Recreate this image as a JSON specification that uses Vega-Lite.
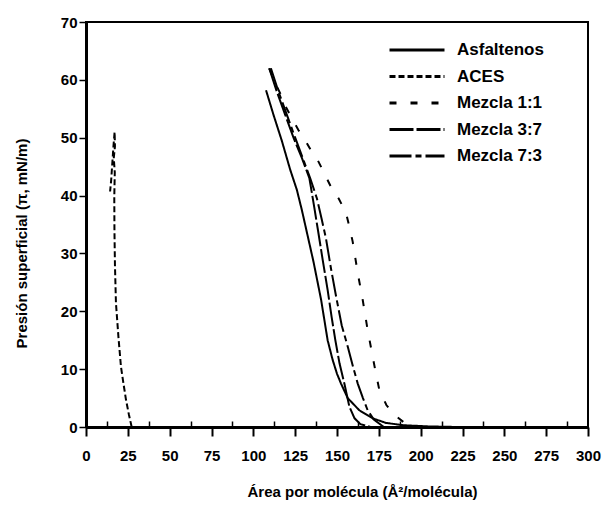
{
  "$schema": "https://vega.github.io/schema/vega-lite/v6.json",
  "autosize": "none",
  "width": 502,
  "height": 405,
  "padding": {"left": 86, "top": 22, "right": 19, "bottom": 81},
  "background": "white",
  "config": {
    "view": {"stroke": "black", "strokeWidth": 2},
    "font": "Liberation Sans",
    "axis": {
      "grid": false,
      "labelFont": "Liberation Sans",
      "labelFontWeight": "bold",
      "labelFontSize": 15,
      "labelColor": "black",
      "titleFont": "Liberation Sans",
      "titleFontWeight": "bold",
      "titleFontSize": 15,
      "titleColor": "black",
      "domainColor": "black",
      "domainWidth": 3,
      "tickColor": "black",
      "tickWidth": 1.5
    },
    "legend": {
      "labelFont": "Liberation Sans",
      "labelFontWeight": "bold",
      "labelFontSize": 17,
      "labelColor": "black"
    }
  },
  "data": {
    "values": [
      {"s": "Asfaltenos", "i": 1, "x": 107.6, "y": 58.2},
      {"s": "Asfaltenos", "i": 2, "x": 112, "y": 54},
      {"s": "Asfaltenos", "i": 3, "x": 117, "y": 49.5},
      {"s": "Asfaltenos", "i": 4, "x": 122, "y": 44.5},
      {"s": "Asfaltenos", "i": 5, "x": 126, "y": 41},
      {"s": "Asfaltenos", "i": 6, "x": 129, "y": 37.5},
      {"s": "Asfaltenos", "i": 7, "x": 132.5, "y": 33},
      {"s": "Asfaltenos", "i": 8, "x": 136, "y": 28.5},
      {"s": "Asfaltenos", "i": 9, "x": 140.5, "y": 22},
      {"s": "Asfaltenos", "i": 10, "x": 144.4, "y": 15},
      {"s": "Asfaltenos", "i": 11, "x": 147.4, "y": 11.6},
      {"s": "Asfaltenos", "i": 12, "x": 150, "y": 9.2},
      {"s": "Asfaltenos", "i": 13, "x": 152.4, "y": 7.5},
      {"s": "Asfaltenos", "i": 14, "x": 156.4, "y": 5},
      {"s": "Asfaltenos", "i": 15, "x": 163.3, "y": 2.9},
      {"s": "Asfaltenos", "i": 16, "x": 171.3, "y": 1.5},
      {"s": "Asfaltenos", "i": 17, "x": 179.3, "y": 0.7},
      {"s": "Asfaltenos", "i": 18, "x": 190, "y": 0.3},
      {"s": "Asfaltenos", "i": 19, "x": 205, "y": 0.1},
      {"s": "Asfaltenos", "i": 20, "x": 222, "y": 0},

      {"s": "ACES", "i": 1, "x": 27.3, "y": 0},
      {"s": "ACES", "i": 2, "x": 25.6, "y": 2.2},
      {"s": "ACES", "i": 3, "x": 23.9, "y": 4.7},
      {"s": "ACES", "i": 4, "x": 22.4, "y": 7.5},
      {"s": "ACES", "i": 5, "x": 20.9, "y": 10.4},
      {"s": "ACES", "i": 6, "x": 19.4, "y": 15.5},
      {"s": "ACES", "i": 7, "x": 17.9, "y": 21.4},
      {"s": "ACES", "i": 8, "x": 17.3, "y": 28},
      {"s": "ACES", "i": 9, "x": 17.0, "y": 34},
      {"s": "ACES", "i": 10, "x": 16.9, "y": 39.8},
      {"s": "ACES", "i": 11, "x": 17.2, "y": 44},
      {"s": "ACES", "i": 12, "x": 16.6, "y": 46.5},
      {"s": "ACES", "i": 13, "x": 17.3, "y": 48.5},
      {"s": "ACES", "i": 14, "x": 17.1, "y": 51},
      {"s": "ACES", "i": 15, "x": 16.4, "y": 48.5},
      {"s": "ACES", "i": 16, "x": 15.7, "y": 45.5},
      {"s": "ACES", "i": 17, "x": 15.0, "y": 42.5},
      {"s": "ACES", "i": 18, "x": 14.4, "y": 40.7},

      {"s": "Mezcla 1:1", "i": 1, "x": 109.5, "y": 62},
      {"s": "Mezcla 1:1", "i": 2, "x": 113, "y": 59.5},
      {"s": "Mezcla 1:1", "i": 3, "x": 116.5, "y": 57.4},
      {"s": "Mezcla 1:1", "i": 4, "x": 120, "y": 55},
      {"s": "Mezcla 1:1", "i": 5, "x": 123.7, "y": 53},
      {"s": "Mezcla 1:1", "i": 6, "x": 127, "y": 51.3},
      {"s": "Mezcla 1:1", "i": 7, "x": 130.3, "y": 49.9},
      {"s": "Mezcla 1:1", "i": 8, "x": 134.5, "y": 47.8},
      {"s": "Mezcla 1:1", "i": 9, "x": 138.5, "y": 46.1},
      {"s": "Mezcla 1:1", "i": 10, "x": 142.5, "y": 43.8},
      {"s": "Mezcla 1:1", "i": 11, "x": 146.4, "y": 41.5},
      {"s": "Mezcla 1:1", "i": 12, "x": 151, "y": 39.5},
      {"s": "Mezcla 1:1", "i": 13, "x": 155.4, "y": 37},
      {"s": "Mezcla 1:1", "i": 14, "x": 157.5, "y": 34.5},
      {"s": "Mezcla 1:1", "i": 15, "x": 159.4, "y": 32},
      {"s": "Mezcla 1:1", "i": 16, "x": 162.4, "y": 26.6},
      {"s": "Mezcla 1:1", "i": 17, "x": 165.4, "y": 21.9},
      {"s": "Mezcla 1:1", "i": 18, "x": 168.3, "y": 16.8},
      {"s": "Mezcla 1:1", "i": 19, "x": 171.3, "y": 12.2},
      {"s": "Mezcla 1:1", "i": 20, "x": 173.3, "y": 9.2},
      {"s": "Mezcla 1:1", "i": 21, "x": 175.3, "y": 6.4},
      {"s": "Mezcla 1:1", "i": 22, "x": 179.5, "y": 3.8},
      {"s": "Mezcla 1:1", "i": 23, "x": 184.2, "y": 2.1},
      {"s": "Mezcla 1:1", "i": 24, "x": 190, "y": 0.8},

      {"s": "Mezcla 3:7", "i": 1, "x": 109.5, "y": 62},
      {"s": "Mezcla 3:7", "i": 2, "x": 114, "y": 58},
      {"s": "Mezcla 3:7", "i": 3, "x": 119, "y": 54},
      {"s": "Mezcla 3:7", "i": 4, "x": 124, "y": 50},
      {"s": "Mezcla 3:7", "i": 5, "x": 129, "y": 46.5},
      {"s": "Mezcla 3:7", "i": 6, "x": 133.5, "y": 43},
      {"s": "Mezcla 3:7", "i": 7, "x": 136.4, "y": 38},
      {"s": "Mezcla 3:7", "i": 8, "x": 138.8, "y": 33.7},
      {"s": "Mezcla 3:7", "i": 9, "x": 141.5, "y": 28.8},
      {"s": "Mezcla 3:7", "i": 10, "x": 144.4, "y": 23.7},
      {"s": "Mezcla 3:7", "i": 11, "x": 146.8, "y": 19},
      {"s": "Mezcla 3:7", "i": 12, "x": 149, "y": 15},
      {"s": "Mezcla 3:7", "i": 13, "x": 151.5, "y": 11},
      {"s": "Mezcla 3:7", "i": 14, "x": 154.4, "y": 7.5},
      {"s": "Mezcla 3:7", "i": 15, "x": 157.4, "y": 3.5},
      {"s": "Mezcla 3:7", "i": 16, "x": 160.5, "y": 1.5},
      {"s": "Mezcla 3:7", "i": 17, "x": 164, "y": 0.5},
      {"s": "Mezcla 3:7", "i": 18, "x": 170, "y": 0},

      {"s": "Mezcla 7:3", "i": 1, "x": 110.5, "y": 62},
      {"s": "Mezcla 7:3", "i": 2, "x": 115, "y": 58},
      {"s": "Mezcla 7:3", "i": 3, "x": 120, "y": 54},
      {"s": "Mezcla 7:3", "i": 4, "x": 125, "y": 50},
      {"s": "Mezcla 7:3", "i": 5, "x": 129.5, "y": 46.5},
      {"s": "Mezcla 7:3", "i": 6, "x": 134, "y": 43},
      {"s": "Mezcla 7:3", "i": 7, "x": 138, "y": 39.5},
      {"s": "Mezcla 7:3", "i": 8, "x": 140.8, "y": 36},
      {"s": "Mezcla 7:3", "i": 9, "x": 143.4, "y": 32.6},
      {"s": "Mezcla 7:3", "i": 10, "x": 146.4, "y": 27.4},
      {"s": "Mezcla 7:3", "i": 11, "x": 149.5, "y": 22.5},
      {"s": "Mezcla 7:3", "i": 12, "x": 152.8, "y": 17.6},
      {"s": "Mezcla 7:3", "i": 13, "x": 156.4, "y": 13.9},
      {"s": "Mezcla 7:3", "i": 14, "x": 159.5, "y": 10.5},
      {"s": "Mezcla 7:3", "i": 15, "x": 162.4, "y": 7.5},
      {"s": "Mezcla 7:3", "i": 16, "x": 165.5, "y": 5},
      {"s": "Mezcla 7:3", "i": 17, "x": 168.3, "y": 2.9},
      {"s": "Mezcla 7:3", "i": 18, "x": 172, "y": 1.3},
      {"s": "Mezcla 7:3", "i": 19, "x": 178, "y": 0}
    ]
  },
  "layer": [
    {
      "mark": {"type": "line", "color": "black", "strokeWidth": 2, "clip": true},
      "encoding": {
        "x": {
          "field": "x",
          "type": "quantitative",
          "scale": {"domain": [0, 300], "nice": false, "zero": false},
          "axis": {
            "title": "Área por molécula (Å²/molécula)",
            "orient": "bottom",
            "values": [0, 25, 50, 75, 100, 125, 150, 175, 200, 225, 250, 275, 300],
            "labelOverlap": false,
            "labelFlush": false,
            "labelPadding": 12,
            "tickSize": 9,
            "tickWidth": 2,
            "titlePadding": 21,
            "titleX": 276
          }
        },
        "y": {
          "field": "y",
          "type": "quantitative",
          "scale": {"domain": [0, 70], "nice": false},
          "axis": {
            "title": "Presión superficial (π, mN/m)",
            "values": [0, 10, 20, 30, 40, 50, 60, 70],
            "tickSize": 7,
            "labelPadding": 2,
            "titlePadding": 31,
            "titleY": 221
          }
        },
        "detail": {"field": "s"},
        "order": {"field": "i", "type": "quantitative"},
        "strokeDash": {
          "field": "s",
          "type": "nominal",
          "scale": {
            "domain": ["Asfaltenos", "ACES", "Mezcla 1:1", "Mezcla 3:7", "Mezcla 7:3"],
            "range": [[1, 0], [6, 3], [7, 14], [24, 3], [22, 4, 6, 4]]
          },
          "legend": {
            "title": null,
            "orient": "none",
            "legendX": 302,
            "legendY": 16,
            "symbolType": "stroke",
            "symbolSize": 3025,
            "symbolStrokeWidth": 3,
            "symbolStrokeColor": "black",
            "labelOffset": 11,
            "clipHeight": 24,
            "rowPadding": 2.5
          }
        }
      }
    },
    {
      "mark": {"type": "line", "opacity": 0, "clip": true},
      "encoding": {
        "x": {
          "field": "x",
          "type": "quantitative",
          "scale": {"domain": [0, 300], "nice": false, "zero": false},
          "axis": {
            "orient": "bottom",
            "title": null,
            "values": [12.5, 37.5, 62.5, 87.5, 112.5, 137.5, 162.5, 187.5, 212.5, 237.5, 262.5, 287.5],
            "labels": false,
            "domain": false,
            "tickSize": -6,
            "tickWidth": 1.5
          }
        },
        "y": {"field": "y", "type": "quantitative", "scale": {"domain": [0, 70], "nice": false}},
        "detail": {"field": "s"},
        "order": {"field": "i", "type": "quantitative"}
      }
    }
  ],
  "resolve": {"axis": {"x": "independent"}}
}
